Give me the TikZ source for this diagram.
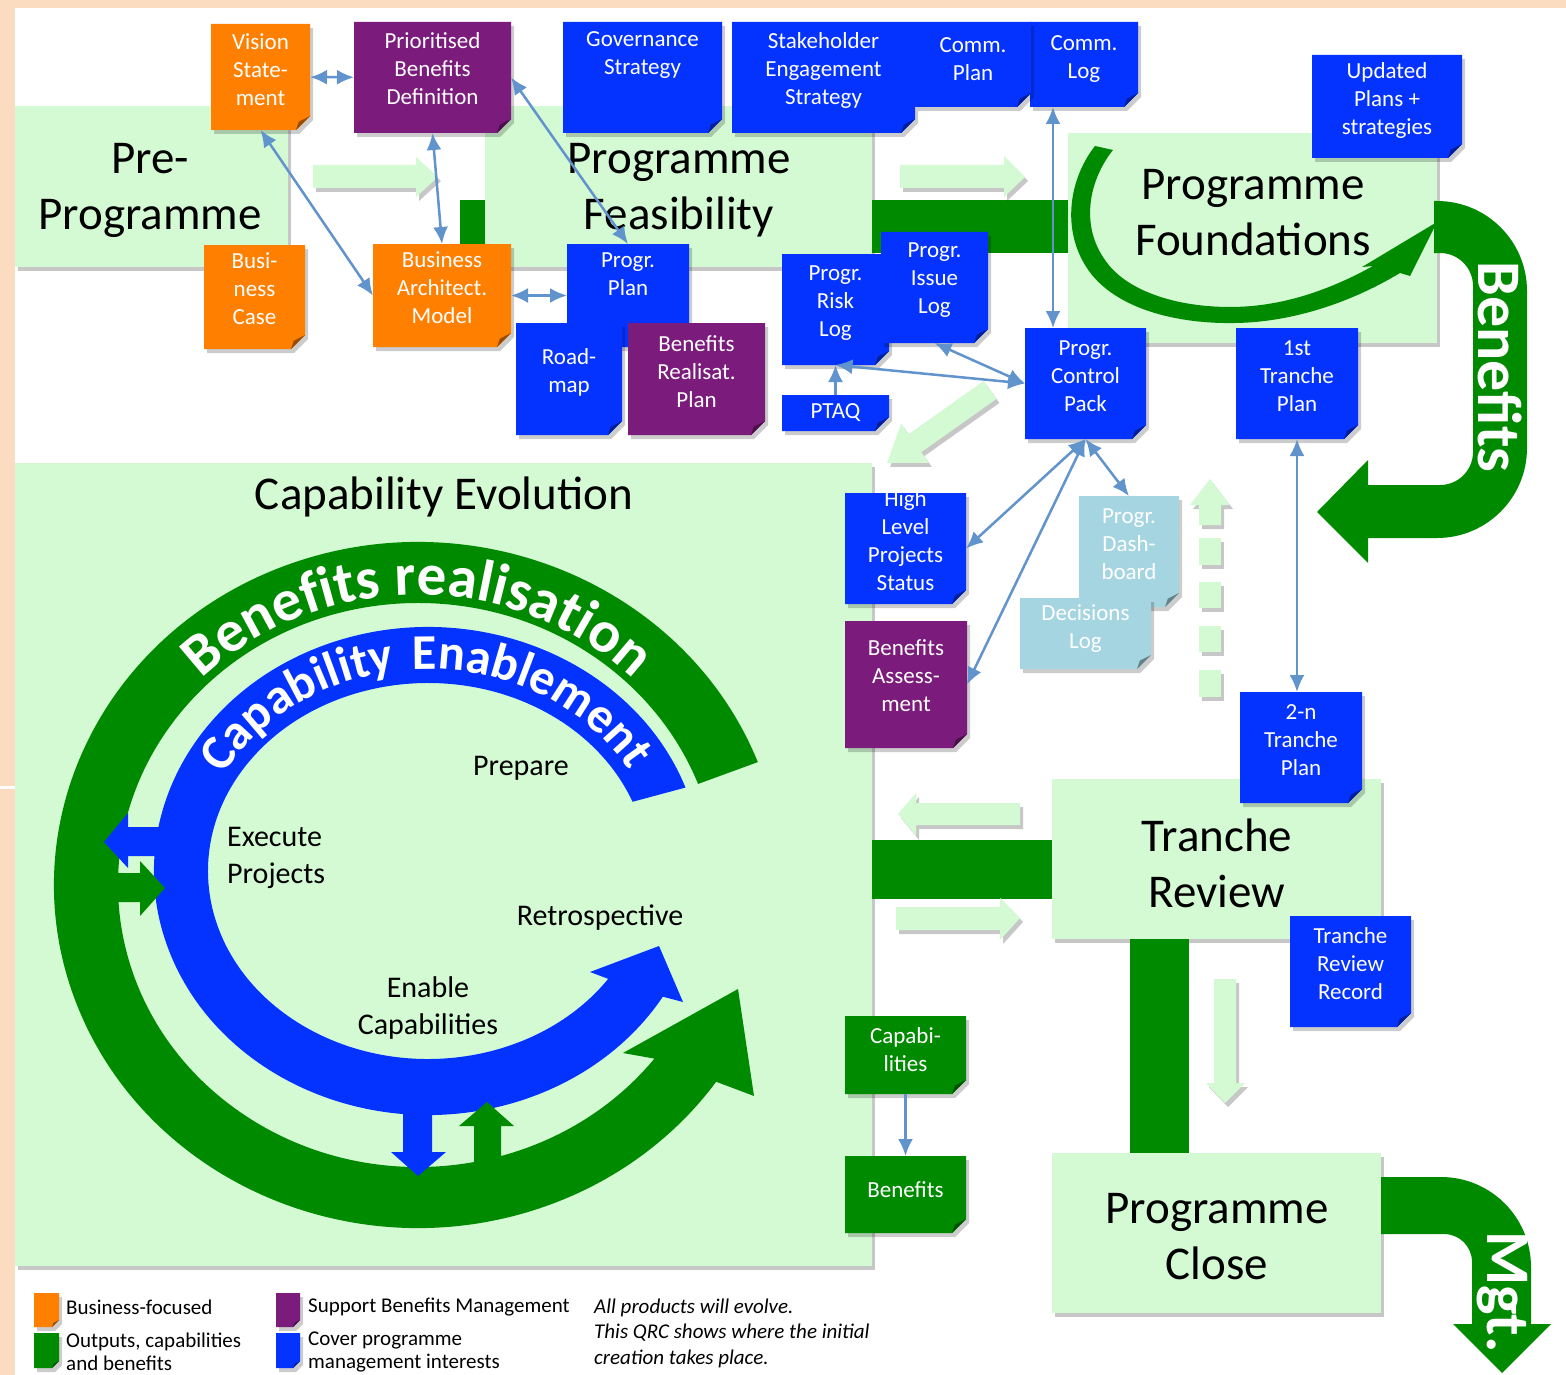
\documentclass[tikz,border=0pt]{standalone}
\usepackage{fontspec}
\setmainfont{Carlito}
\usetikzlibrary{arrows.meta,calc,shadows,decorations.text}
\definecolor{nblue}{HTML}{0433FF}
\definecolor{norange}{HTML}{FF7F00}
\definecolor{npurple}{HTML}{7B1B7B}
\definecolor{nlblue}{HTML}{A6D5E2}
\definecolor{dgreen}{HTML}{008A00}
\definecolor{pgreen}{HTML}{D4FAD4}
\definecolor{peach}{HTML}{FCDCC0}
\definecolor{cblue}{HTML}{6193CC}
\newcommand\foldsz{14}
% #1 name, #2 x1, #3 y1, #4 x2, #5 y2, #6 colour, #7 text centre y, #8 text
\newcommand\notebox[8]{%
  \fill[black,opacity=0.2] (#2+3,#3+4) -- (#4+3,#3+4) -- (#4+3,#5+4-\foldsz) -- (#4+3-\foldsz,#5+4) -- (#2+3,#5+4) -- cycle;
  \fill[#6] (#2,#3) -- (#4,#3) -- (#4,#5-\foldsz) -- (#4-\foldsz,#5) -- (#2,#5) -- cycle;
  \fill[#6!60!black] (#4,#5-\foldsz) -- (#4-\foldsz,#5) -- (#4-0.8*\foldsz,#5-0.6*\foldsz) -- cycle;
  \node[boxnode,minimum width={(#4-#2)*1pt},minimum height={(#5-#3)*1pt}] (#1) at ({(#2+#4)/2},{(#3+#5)/2}) {};
  \node[notetext] (#1-t) at ({(#2+#4)/2},#7) {#8};
}
\newcommand\phasebox[5]{%
  \node[phasebx,minimum width={(#4-#2)*1pt},minimum height={(#5-#3)*1pt}] (#1) at ({(#2+#4)/2},{(#3+#5)/2}) {};
}
\begin{document}
\begin{tikzpicture}[x=1pt,y=-1pt,
  boxnode/.style={inner sep=0pt,outer sep=0pt},
  notetext/.style={text=white,align=center,inner sep=0pt,font=\fontsize{23}{28}\selectfont},
  phasebx/.style={fill=pgreen,inner sep=0pt,outer sep=0pt,drop shadow={fill=black,opacity=0.22,shadow xshift=3pt,shadow yshift=-4pt}},
  palearr/.style={fill=pgreen,drop shadow={fill=black,opacity=0.22,shadow xshift=3pt,shadow yshift=-4pt}},
  phtext/.style={align=center,font=\fontsize{47}{56}\selectfont,inner sep=0pt},
  lab/.style={font=\fontsize{30}{37}\selectfont,inner sep=0pt},
  conn/.style={draw=cblue,line width=2.5pt,{Latex[length=17pt,width=15pt]}-{Latex[length=17pt,width=15pt]}},
  conn1/.style={draw=cblue,line width=2.5pt,-{Latex[length=17pt,width=15pt]}},
  legtext/.style={font=\fontsize{21}{23.5}\selectfont,align=left,inner sep=0pt,anchor=west},
  bigwhite/.style={text=white,font=\fontsize{62}{62}\selectfont\bfseries,inner sep=0pt}
]
\useasboundingbox (0,0) rectangle (1566,1375);
\fill[white] (0,0) rectangle (1566,1375);
% peach border
\fill[peach] (0,0) rectangle (1566,8);
\fill[peach] (0,0) rectangle (15,1375);
\fill[white] (0,786) rectangle (15,789);

% phase boxes
\phasebox{pre}{15}{106}{288}{267}
\phasebox{feas}{485}{106}{872}{267}
\phasebox{found}{1068}{133}{1437}{343}
\phasebox{capev}{15}{463}{872}{1266}
\phasebox{trev}{1052}{779}{1381}{939}
\phasebox{pclose}{1052}{1153}{1381}{1313}

% dark green bars
\fill[dgreen] (460,200) rectangle (485,250);
\fill[dgreen] (872,200) rectangle (1068,253);
\fill[dgreen] (872,840) rectangle (1052,899);
\fill[dgreen] (1130,939) rectangle (1189,1153);

% pale arrows
\fill[palearr] (313,165) -- (416,165) -- (416,157) -- (438,177) -- (416,197) -- (416,188) -- (313,188) -- cycle;
\fill[palearr] (900,165) -- (1004,165) -- (1004,156) -- (1025,177) -- (1004,197) -- (1004,188) -- (900,188) -- cycle;
\begin{scope}[shift={(990,390)},rotate=215.3]
\fill[palearr] (0,-11) -- (92,-11) -- (92,-24) -- (126,0) -- (92,24) -- (92,11) -- (0,11) -- cycle;
\end{scope}
\fill[palearr] (1020,803) -- (916,803) -- (916,793) -- (898,814) -- (916,836) -- (916,825) -- (1020,825) -- cycle;
\fill[palearr] (896,907) -- (1000,907) -- (1000,898) -- (1020,918) -- (1000,940) -- (1000,930) -- (896,930) -- cycle;
\fill[palearr] (1214,979) -- (1236,979) -- (1236,1083) -- (1245,1083) -- (1225,1103) -- (1206,1083) -- (1214,1083) -- cycle;
\fill[palearr] (1199,525) -- (1199,505) -- (1190,505) -- (1210,479) -- (1230,505) -- (1221,505) -- (1221,525) -- cycle;
\fill[palearr] (1199,538) rectangle (1221,565);
\fill[palearr] (1199,582) rectangle (1221,608);
\fill[palearr] (1199,626) rectangle (1221,652);
\fill[palearr] (1199,670) rectangle (1221,697);

% Foundations curved arrow
\fill[dgreen] (1095,146) .. controls (1068,180) and (1060,235) .. (1092,275) .. controls (1125,315) and (1195,327) .. (1255,322) .. controls (1310,317) and (1360,297) .. (1400,273) -- (1410,276) -- (1437,222) -- (1362,267) -- (1373,266) .. controls (1335,287) and (1295,302) .. (1252,306) .. controls (1195,311) and (1130,297) .. (1105,260) .. controls (1080,225) and (1089,180) .. (1113,150) -- cycle;

% Benefits U arrow
\fill[dgreen] (1434,201) -- (1437,201) arc[start angle=-90,end angle=0,radius=90] -- (1527,448) arc[start angle=0,end angle=90,radius=90] -- (1368,538) -- (1368,563) -- (1317,512) -- (1368,460) -- (1368,485) -- (1440,485) arc[start angle=90,end angle=0,radius=33] -- (1473,286) arc[start angle=0,end angle=-90,radius=33] -- (1434,253) -- cycle;
\node[bigwhite,rotate=-90] (bentxt) at (1500,367) {Benefits};

% Mgt arrow
\fill[dgreen] (1381,1177) -- (1441,1177) arc[start angle=-90,end angle=0,radius=90] -- (1531,1324) -- (1551,1324) -- (1502,1373) -- (1453,1324) -- (1472,1324) -- (1472,1262) arc[start angle=0,end angle=-90,radius=28] -- (1381,1234) -- cycle;
\node[bigwhite,rotate=-90] (mgttxt) at (1502,1292) {Mgt.};

% circle: benefits realisation band
\fill[dgreen] ($(418,885)+(-21:364 and 343)$) arc[start angle=-21,end angle=-325,x radius=364,y radius=343] -- (754,1096) -- (738,989) -- (623,1053) -- ($(418,885)+(-322:300 and 282)$) arc[start angle=-322,end angle=-21,x radius=300,y radius=282] -- cycle;
% capability enablement band
\fill[nblue] ($(428,871)+(-20:274 and 244)$) arc[start angle=-20,end angle=-329,x radius=274,y radius=244] -- (683,1002) -- (659,946) -- (590,972) -- ($(428,871)+(-325:220 and 188)$) arc[start angle=-325,end angle=-21.6,x radius=220,y radius=188] -- cycle;
% exchange arrows
\fill[nblue] (165,827) -- (128,827) -- (128,813) -- (104,842) -- (128,868) -- (128,856) -- (165,856) -- cycle;
\fill[dgreen] (110,873) -- (140,873) -- (140,861) -- (165,888) -- (140,916) -- (140,902) -- (110,902) -- cycle;
\fill[nblue] (403,1100) -- (432,1100) -- (432,1152) -- (446,1152) -- (418,1176) -- (391,1152) -- (403,1152) -- cycle;
\fill[dgreen] (474,1175) -- (474,1126) -- (459,1126) -- (487,1102) -- (514,1126) -- (501,1126) -- (501,1175) -- cycle;
% texts on bands
\path[decorate,decoration={text along path,text align=center,text color=white,text={|\fontsize{59}{59}\selectfont\bfseries|Benefits realisation}}] ($(418,885)+(-150:306 and 290)$) arc[start angle=-150,end angle=-30,x radius=306,y radius=290];
\path[decorate,decoration={text along path,text align=center,text color=white,text={|\fontsize{50}{50}\selectfont\bfseries|Capability}}] ($(428,871)+(-171:232 and 202)$) arc[start angle=-171,end angle=-81,x radius=232,y radius=202];
\path[decorate,decoration={text along path,text align=center,text color=white,text={|\fontsize{50}{50}\selectfont\bfseries|Enablement}}] ($(428,871)+(-106:232 and 202)$) arc[start angle=-106,end angle=-16,x radius=232,y radius=202];
% inner labels
\node[lab] (prep) at (521,768) {Prepare};
\node[lab,anchor=west,align=left] (exec) at (227,858) {Execute\\Projects};
\node[lab] (retro) at (600,918) {Retrospective};
\node[lab,align=center] (enab) at (428,1008) {Enable\\Capabilities};

% phase titles
\node[phtext] (pre-t) at (150,190) {Pre-\\Programme};
\node[phtext] (feas-t) at (679,190) {Programme\\Feasibility};
\node[phtext] (found-t) at (1253,213) {Programme\\Foundations};
\node[phtext] (trev-t) at (1217,863) {Tranche\\Review};
\node[phtext] (pclose-t) at (1217,1237) {Programme\\Close};
\node[phtext] (capev-t) at (444,497) {Capability Evolution};

% notes
\notebox{vis}{211}{24}{310}{130}{norange}{70}{Vision\\State-\\ment}
\notebox{prio}{354}{22}{511}{133}{npurple}{69}{Prioritised\\Benefits\\Definition}
\notebox{gov}{563}{22}{722}{133}{nblue}{55}{Governance\\Strategy}
\notebox{stake}{732}{22}{915}{133}{nblue}{70}{Stakeholder\\Engagement\\Strategy}
\notebox{clog}{1030}{22}{1138}{107}{nblue}{59}{Comm.\\Log}
\notebox{cplan}{915}{22}{1031}{107}{nblue}{59}{Comm.\\Plan}
\notebox{upd}{1312}{55}{1462}{158}{nblue}{100}{Updated\\Plans +\\strategies}
\notebox{bcase}{204}{245}{305}{349}{norange}{289}{Busi-\\ness\\Case}
\notebox{bam}{373}{244}{511}{347}{norange}{288}{Business\\Architect.\\Model}
\notebox{pplan}{567}{244}{689}{347}{nblue}{274}{Progr.\\Plan}
\notebox{road}{516}{323}{622}{435}{nblue}{372}{Road-\\map}
\notebox{brp}{628}{323}{765}{435}{npurple}{372}{Benefits\\Realisat.\\Plan}
\notebox{risk}{782}{254}{889}{365}{nblue}{303}{Progr.\\Risk\\Log}
\notebox{issue}{881}{232}{988}{343}{nblue}{280}{Progr.\\Issue\\Log}
\notebox{ptaq}{782}{395}{889}{431}{nblue}{413}{PTAQ}
\notebox{cpk}{1025}{328}{1146}{439}{nblue}{376}{Progr.\\Control\\Pack}
\notebox{tone}{1236}{328}{1358}{439}{nblue}{376}{1st\\Tranche\\Plan}
\notebox{hlps}{845}{493}{966}{604}{nblue}{541}{High\\Level\\Projects\\Status}
\notebox{dash}{1079}{496}{1179}{607}{nlblue}{544}{Progr.\\Dash-\\board}
\notebox{dec}{1020}{598}{1151}{669}{nlblue}{629}{Decisions\\Log}
\notebox{bass}{845}{621}{967}{748}{npurple}{676}{Benefits\\Assess-\\ment}
\notebox{ttwo}{1240}{692}{1362}{803}{nblue}{740}{2-n\\Tranche\\Plan}
\notebox{trr}{1290}{916}{1411}{1027}{nblue}{964}{Tranche\\Review\\Record}
\notebox{caps}{845}{1016}{966}{1094}{dgreen}{1050}{Capabi-\\lities}
\notebox{bens}{845}{1156}{966}{1233}{dgreen}{1190}{Benefits}

% connectors
\draw[conn] (vis) -- (prio);
\draw[conn] (vis.south) -- (bam.west);
\draw[conn] (prio.south) -- (bam.north);
\draw[conn] (prio.east) -- (pplan.north);
\draw[conn] (bam.east) -- (pplan.west);
\draw[conn] ($(clog.south west)+(23,0)$) -- ($(cpk.north west)+(28,0)$);
\draw[conn] (risk.south) -- (cpk.west);
\draw[conn] (issue.south) -- (cpk.west);
\draw[conn1] (ptaq) -- (risk);
\draw[conn] (cpk.south) -- (hlps.east);
\draw[conn] (cpk.south) -- (bass.east);
\draw[conn] (cpk.south) -- (dash.north);
\draw[conn] (tone.south) -- (tone.south |- ttwo.north);
\draw[conn1] (caps) -- (bens);

% legend
\renewcommand\foldsz{7}
\notebox{lgo}{34}{1293}{59}{1327}{norange}{1310}{}
\notebox{lgg}{34}{1333}{59}{1368}{dgreen}{1350}{}
\notebox{lgp}{276}{1293}{300}{1327}{npurple}{1310}{}
\notebox{lgb}{276}{1333}{300}{1368}{nblue}{1350}{}
\node[legtext] (lg1) at (66,1307) {Business-focused};
\node[legtext] (lg2) at (66,1352) {Outputs, capabilities\\and benefits};
\node[legtext] (lg3) at (308,1307) {Support Benefits Management};
\node[legtext] (lg4) at (308,1352) {Cover programme\\management interests};
\node[legtext,font=\fontsize{21}{25.5}\selectfont\itshape] (lg5) at (594,1333) {All products will evolve.\\This QRC shows where the initial\\creation takes place.};
\end{tikzpicture}
\end{document}
